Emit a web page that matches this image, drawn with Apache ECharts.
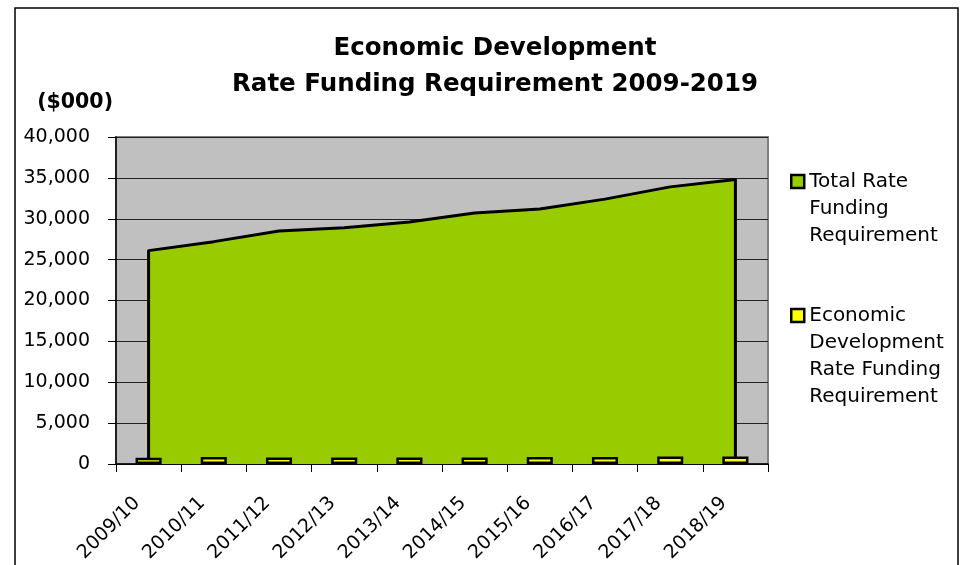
<!DOCTYPE html>
<html>
<head>
<meta charset="utf-8">
<script src="https://cdn.jsdelivr.net/npm/echarts@6/dist/echarts.min.js"></script>
<style>html,body{margin:0;padding:0;background:#fff}#c{width:960px;height:565px}</style>
</head>
<body>
<div id="c"></div>
<script>
var categories = ['2009/10','2010/11','2011/12','2012/13','2013/14','2014/15','2015/16','2016/17','2017/18','2018/19'];
var totalRate = [26100, 27200, 28500, 28900, 29600, 30700, 31200, 32400, 33900, 34800];
var econDev = [750, 850, 810, 780, 810, 780, 850, 850, 920, 920];
var yTicks = [0, 5000, 10000, 15000, 20000, 25000, 30000, 35000, 40000];
var seriesNames = ['Total Rate Funding Requirement', 'Economic Development Rate Funding Requirement'];
var legendLabels = {
  'Total Rate Funding Requirement': ['Total Rate', 'Funding', 'Requirement'],
  'Economic Development Rate Funding Requirement': ['Economic', 'Development', 'Rate Funding', 'Requirement']
};
var FONT = 'DejaVu Sans';

var chart = echarts.init(document.getElementById('c'), null, {renderer: 'canvas'});

function legendFmt(name) {
  var lines = legendLabels[name];
  var pad = [];
  for (var i = 0; i < lines.length - 1; i++) pad.push('');
  return pad.concat(lines).join('\n');
}

var legendCommon = {
  orient: 'vertical',
  left: 790,
  padding: 0,
  icon: 'rect',
  itemWidth: 13,
  itemHeight: 13,
  itemGap: 0,
  itemStyle: {borderColor: '#000', borderWidth: 2.5},
  formatter: legendFmt,
  textStyle: {fontFamily: FONT, fontSize: 20, color: '#000', lineHeight: 27},
  selectedMode: false
};

var option = {
  animation: false,
  backgroundColor: '#fff',
  textStyle: {fontFamily: FONT},
  title: {
    text: 'Economic Development\nRate Funding Requirement 2009-2019',
    left: 490,
    textAlign: 'center',
    top: 26,
    textStyle: {fontFamily: FONT, fontSize: 24.5, fontWeight: 'bold', color: '#000', lineHeight: 36}
  },
  legend: [
    Object.assign({}, legendCommon, {data: [seriesNames[0]], top: 114}),
    Object.assign({}, legendCommon, {data: [seriesNames[1]], top: 221})
  ],
  grid: {
    left: 116, right: 192, top: 137, bottom: 101,
    containLabel: false,
    outerBoundsMode: 'none',
    show: true,
    backgroundColor: '#C0C0C0',
    borderColor: '#808080',
    borderWidth: 2
  },
  xAxis: {
    type: 'category',
    data: categories,
    boundaryGap: true,
    axisLine: {show: true, lineStyle: {color: '#000', width: 1.5}},
    axisTick: {show: true, alignWithLabel: false, length: 8, lineStyle: {color: '#000'}},
    axisLabel: {interval: 0, rotate: 45, fontFamily: FONT, fontSize: 19, color: '#000', margin: 38, verticalAlign: 'bottom', padding: [0, 7, 0, 0]},
    splitLine: {show: false}
  },
  yAxis: {
    type: 'value',
    min: 0, max: 40000, interval: 5000,
    name: '($000)',
    nameLocation: 'end',
    nameGap: 24,
    nameTextStyle: {fontFamily: FONT, fontSize: 20.5, fontWeight: 'bold', color: '#000', align: 'right', padding: [0, 3, 0, 0]},
    axisLine: {show: true, lineStyle: {color: '#000', width: 1.5}},
    axisTick: {show: true, length: 8, lineStyle: {color: '#000'}},
    axisLabel: {
      fontFamily: FONT, fontSize: 19, color: '#000', margin: 26,
      formatter: function (v) { return yTicks.indexOf(v) >= 0 ? v.toLocaleString('en-US') : ''; }
    },
    splitLine: {show: true, lineStyle: {color: '#222', width: 1}}
  },
  series: [{
    name: seriesNames[0],
    type: 'custom',
    data: totalRate.map(function (v, i) { return [i, v]; }),
    encode: {x: 0, y: 1},
    itemStyle: {color: '#99CC00', borderColor: '#000', borderWidth: 2},
    z: 2,
    renderItem: function (params, api) {
      if (params.dataIndex !== 0) return null;
      var n = totalRate.length;
      var top = [];
      for (var i = 0; i < n; i++) top.push(api.coord([i, totalRate[i]]));
      var b0 = api.coord([0, 0]);
      var b1 = api.coord([n - 1, 0]);
      var poly = [b0].concat(top).concat([b1]);
      return {
        type: 'group',
        children: [{
          type: 'polygon',
          shape: {points: poly},
          style: {fill: '#99CC00', stroke: null}
        }, {
          type: 'polyline',
          shape: {points: poly},
          style: {fill: null, stroke: '#000', lineWidth: 3, lineJoin: 'round'}
        }]
      };
    }
  }, {
    name: seriesNames[1],
    type: 'bar',
    data: econDev,
    barWidth: '40%',
    z: 3,
    itemStyle: {color: '#FFFF00', borderColor: '#000', borderWidth: 2.5}
  }],
  graphic: [{
    type: 'rect',
    shape: {x: 15, y: 8, width: 943, height: 600},
    style: {fill: null, stroke: '#000', lineWidth: 1.5},
    silent: true,
    z: 100
  }]
};
chart.setOption(option);
</script>
</body>
</html>
